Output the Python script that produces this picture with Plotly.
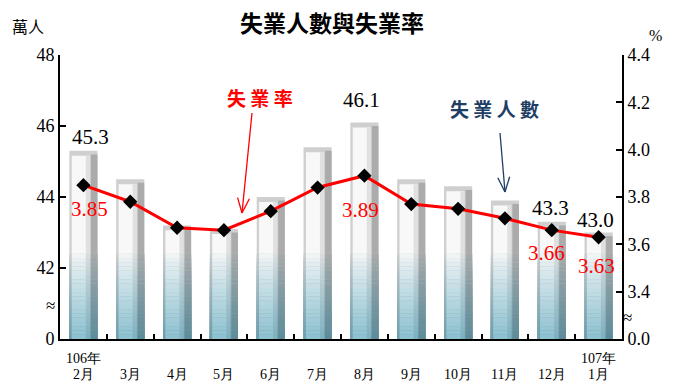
import math
import plotly.graph_objects as go

# ---- data ----
months = ["2月", "3月", "4月", "5月", "6月", "7月", "8月", "9月", "10月", "11月", "12月", "1月"]
years = {0: "106年", 11: "107年"}
unemployed = [45.3, 44.5, 43.2, 43.1, 44.0, 45.4, 46.1, 44.5, 44.3, 43.9, 43.3, 43.0]  # 萬人
rate = [3.85, 3.78, 3.67, 3.66, 3.74, 3.84, 3.89, 3.77, 3.75, 3.71, 3.66, 3.63]  # %
bar_label_idx = [0, 6, 10, 11]
rate_label_idx = [0, 6, 10, 11]
left_ticks = [40, 42, 44, 46, 48]
left_ticktext = ["0", "42", "44", "46", "48"]
right_ticks = [3.2, 3.4, 3.6, 3.8, 4.0, 4.2, 4.4]
right_ticktext = ["0.0", "3.4", "3.6", "3.8", "4.0", "4.2", "4.4"]

# ---- style ----
SERIF = "Liberation Serif"
CJK = "Noto Sans CJK TC"
bar_label_shift = {0: (7, 14), 6: (-3, 22), 10: (-1, 14), 11: (-3, 13)}
rate_label_shift = {0: (6, -24), 6: (-4, -34), 10: (-5, -23), 11: (-2, -29)}

x = list(range(len(months)))
L, R, T, B = 60, 58, 55, 43
W, H = 680, 382
PW, PH = W - L - R, H - T - B


def px2paper(px, py):
    return (px - L) / PW, (H - B - py) / PH


def hex2rgb(h):
    h = h.lstrip("#")
    return tuple(int(h[i:i + 2], 16) for i in (0, 2, 4))


def blend(c1, c2, t):
    a, b = hex2rgb(c1), hex2rgb(c2)
    return "rgb(%d,%d,%d)" % tuple(round(a[i] + (b[i] - a[i]) * t) for i in range(3))


fig = go.Figure()

# bar components: (offset, width, top colour, bottom colour, top trim)
parts = [
    (-0.30, 0.60, "#cfcfcf", "#6f9eac", 0.0),
    (0.16, 0.14, "#ababab", "#5f8c99", 0.10),
    (-0.25, 0.38, "#f8f8f8", "#8fc2d1", 0.14),
    (0.05, 0.09, "#e0e0e0", "#7fb1c0", 0.14),
]
for off, wd, c_top, c_bot, trim in parts:
    fig.add_trace(go.Bar(x=x, y=[v - 40 - trim for v in unemployed], base=40,
                         offset=off, width=wd, marker=dict(color=c_top, line=dict(width=0)),
                         hoverinfo="skip", showlegend=False))
n = 20
for k in range(n):
    lvl = 2.4 * (1 - k / n)
    t = ((k + 1) / n) ** 0.85
    for off, wd, c_top, c_bot, trim in parts:
        fig.add_trace(go.Bar(x=x, y=[lvl] * len(x), base=40, offset=off, width=wd,
                             marker=dict(color=blend(c_top, c_bot, t), line=dict(width=0)),
                             hoverinfo="skip", showlegend=False))

fig.add_trace(go.Scatter(x=x, y=rate, yaxis="y2", mode="lines+markers",
                         line=dict(color="#ff0000", width=3),
                         marker=dict(symbol="diamond", size=11, color="black"),
                         hoverinfo="skip", showlegend=False))

ann = []
for i in bar_label_idx:
    dx, dy = bar_label_shift[i]
    ann.append(dict(x=i, y=unemployed[i], xref="x", yref="y", text=f"{unemployed[i]:.1f}",
                    showarrow=False, xshift=dx, yshift=dy, yanchor="middle",
                    font=dict(family=SERIF, size=21, color="black")))
for i in rate_label_idx:
    dx, dy = rate_label_shift[i]
    ann.append(dict(x=i, y=rate[i], xref="x", yref="y2", text=f"{rate[i]:.2f}",
                    showarrow=False, xshift=dx, yshift=dy, yanchor="middle",
                    font=dict(family=SERIF, size=21, color="#ff0000")))
# x labels
for i, m in enumerate(months):
    ann.append(dict(x=i, y=0, xref="x", yref="paper", text=m, showarrow=False,
                    yshift=-35, yanchor="middle",
                    font=dict(family=SERIF, size=14, color="black")))
for i, yt in years.items():
    ann.append(dict(x=i, y=0, xref="x", yref="paper", text=yt, showarrow=False,
                    yshift=-19, yanchor="middle", font=dict(family=SERIF, size=14, color="black")))


def txt(px, py, text, size, color="black", family=CJK, bold=False):
    xp, yp = px2paper(px, py)
    ann.append(dict(x=xp, y=yp, xref="paper", yref="paper", text=f"<b>{text}</b>" if bold else text,
                    showarrow=False, xanchor="center", yanchor="middle",
                    font=dict(family=family, size=size, color=color)))


txt(332, 22, "失業人數與失業率", 23, bold=True)
txt(28, 26, "萬人", 16)
txt(655, 36, "%", 16, family=SERIF)
txt(260, 97, "失 業 率", 19, color="#ff0000", bold=True)
txt(494, 108, "失 業 人 數", 19, color="#1f3e64", bold=True)
txt(50, 305, "≈", 17, family=SERIF)
txt(627, 317, "≈", 17, family=SERIF)

shapes = []


def arrow(x0, y0, x1, y1, color):
    pts = [(x0, y0, x1, y1)]
    ang = math.atan2(y1 - y0, x1 - x0)
    for s in (-1, 1):
        a = ang + math.pi + s * 0.38
        pts.append((x1, y1, x1 + 16 * math.cos(a), y1 + 16 * math.sin(a)))
    for a0, b0, a1, b1 in pts:
        p0, p1 = px2paper(a0, b0), px2paper(a1, b1)
        shapes.append(dict(type="line", xref="paper", yref="paper", x0=p0[0], y0=p0[1],
                           x1=p1[0], y1=p1[1], line=dict(color=color, width=1.3)))


arrow(252, 113, 242, 213, "#ff0000")
arrow(500, 133, 505, 192, "#1f3e64")

fig.update_layout(
    width=W, height=H, margin=dict(l=L, r=R, t=T, b=B),
    paper_bgcolor="white", plot_bgcolor="white", barmode="overlay",
    xaxis=dict(range=[-0.5, len(x) - 0.5], tickmode="array", tickvals=[i + 0.5 for i in x[:-1]],
               showticklabels=False, ticks="inside", ticklen=5, tickwidth=1.5, tickcolor="black",
               showline=True, linecolor="black", linewidth=2, showgrid=False, zeroline=False),
    yaxis=dict(range=[40, 48], tickvals=left_ticks, ticktext=left_ticktext, ticks="inside",
               ticklen=6, tickwidth=1.5, tickcolor="black", showline=True, linecolor="black",
               linewidth=2, showgrid=False, zeroline=False,
               tickfont=dict(family=SERIF, size=18, color="black")),
    yaxis2=dict(range=[3.2, 4.4], tickvals=right_ticks, ticktext=right_ticktext, overlaying="y",
                side="right", ticks="inside", ticklen=6, tickwidth=1.5, tickcolor="black",
                showline=True, linecolor="black", linewidth=2, showgrid=False, zeroline=False,
                tickfont=dict(family=SERIF, size=18, color="black")),
    annotations=ann, shapes=shapes, showlegend=False,
)
fig.write_html("out.html", config={"displayModeBar": False},
               post_script="document.body.style.margin='0';document.body.style.overflow='hidden';")
